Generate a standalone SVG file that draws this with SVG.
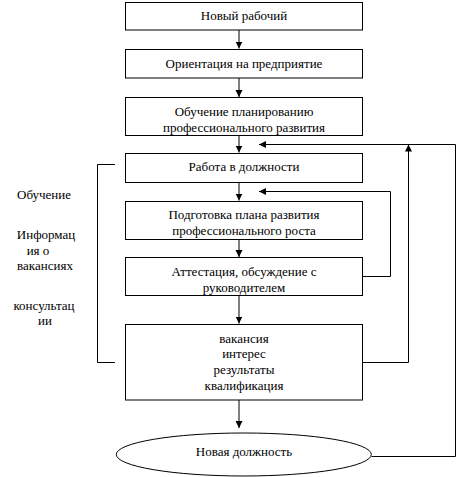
<svg xmlns="http://www.w3.org/2000/svg" width="457" height="477" viewBox="0 0 457 477" font-family="Liberation Serif, Times New Roman, serif" font-size="13">
<style>
.box{fill:#fff;stroke:#000;stroke-width:1}
.ln{fill:none;stroke:#000;stroke-width:1}
.t{font-family:"Liberation Serif","Times New Roman",serif;font-size:13px;fill:#000;text-anchor:middle}
</style>
<defs>
<marker id="ah" markerUnits="userSpaceOnUse" markerWidth="8" markerHeight="8" refX="7" refY="3.5" orient="auto">
<path d="M0,0 L7,3.5 L0,7 Z" fill="#000"/>
</marker>
</defs>
<rect width="457" height="477" fill="#fff"/>
<g id="connectors">
<line class="ln" x1="239" y1="30" x2="239" y2="48.5" marker-end="url(#ah)"/>
<line class="ln" x1="239" y1="78" x2="239" y2="97" marker-end="url(#ah)"/>
<line class="ln" x1="239" y1="135.5" x2="239" y2="152.5" marker-end="url(#ah)"/>
<line class="ln" x1="239" y1="182.5" x2="239" y2="200.5" marker-end="url(#ah)"/>
<line class="ln" x1="239" y1="239.5" x2="239" y2="257" marker-end="url(#ah)"/>
<line class="ln" x1="239" y1="295.5" x2="239" y2="323.5" marker-end="url(#ah)"/>
<line class="ln" x1="239" y1="400" x2="239" y2="428" marker-end="url(#ah)"/>
<polyline class="ln" points="362.5,276.5 390.5,276.5 390.5,191.5 259,191.5" marker-end="url(#ah)"/>
<polyline class="ln" points="362.5,362.5 408.5,362.5 408.5,144.5" marker-end="url(#ah)"/>
<polyline class="ln" points="371.5,456.5 455.5,456.5 455.5,144.5 259,144.5" marker-end="url(#ah)"/>
<polyline class="ln" points="115,164.5 97.5,164.5 97.5,362.5 115,362.5"/>
</g>
<g id="n1"><rect class="box" x="125.5" y="2.5" width="237" height="27.5"/><text class="t" x="244" y="20">Новый рабочий</text></g>
<g id="n2"><rect class="box" x="125.5" y="49.5" width="237" height="28.5"/><text class="t" x="244" y="67.5">Ориентация на предприятие</text></g>
<g id="n3"><rect class="box" x="125.5" y="97.5" width="237" height="38"/><text class="t" x="244" y="116">Обучение планированию</text><text class="t" x="244" y="131.5">профессионального развития</text></g>
<g id="n4"><rect class="box" x="125.5" y="153.5" width="237" height="29"/><text class="t" x="244" y="171">Работа в должности</text></g>
<g id="n5"><rect class="box" x="125.5" y="201.5" width="237" height="38"/><text class="t" x="244" y="219">Подготовка плана развития</text><text class="t" x="244" y="235">профессионального роста</text></g>
<g id="n6"><rect class="box" x="125.5" y="257.5" width="237" height="38"/><text class="t" x="244" y="276">Аттестация, обсуждение с</text><text class="t" x="244" y="291.5">руководителем</text></g>
<g id="n7"><rect class="box" x="125.5" y="324.5" width="237" height="75.5"/><text class="t" x="244" y="342.5">вакансия</text><text class="t" x="244" y="358">интерес</text><text class="t" x="244" y="373.5">результаты</text><text class="t" x="244" y="389.5">квалификация</text></g>
<g id="n8"><ellipse class="box" cx="243.8" cy="454.5" rx="127.5" ry="21.5"/><text class="t" x="244" y="456">Новая должность</text></g>
<g id="labels">
<text class="t" x="44" y="199">Обучение</text>
<text class="t" x="46" y="239">Информац</text>
<text class="t" x="38" y="254.5">ия о</text>
<text class="t" x="45" y="269.5">вакансиях</text>
<text class="t" x="44" y="310">консультац</text>
<text class="t" x="45" y="324.5">ии</text>
</g>
</svg>
